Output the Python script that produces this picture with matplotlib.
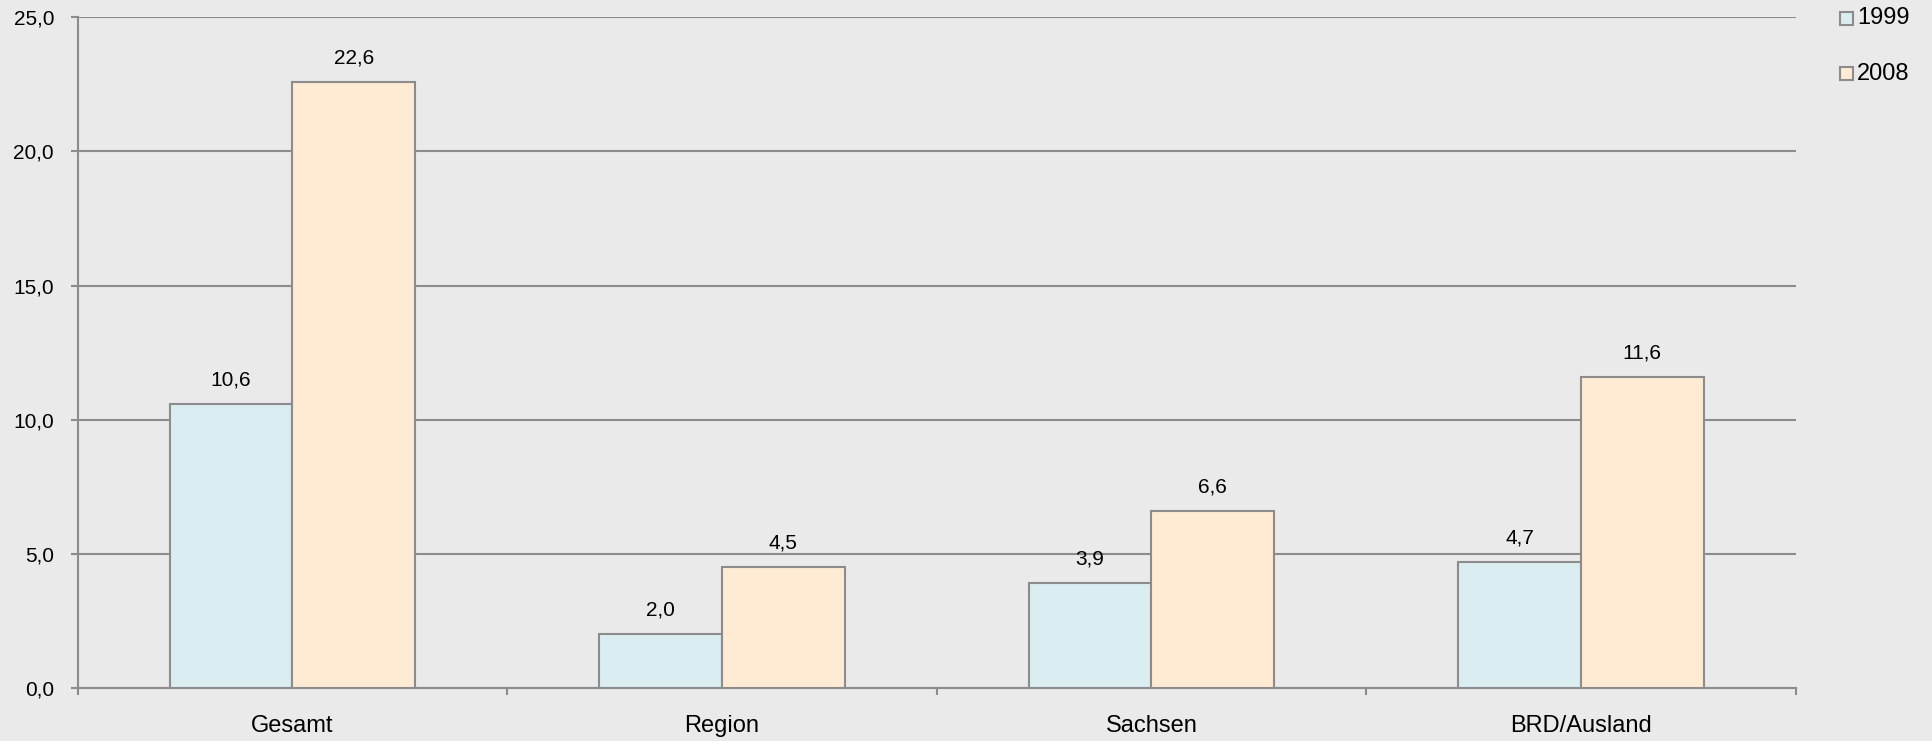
import numpy as np
import matplotlib
matplotlib.use('Agg')
import matplotlib.pyplot as plt
from matplotlib.patches import Rectangle
from matplotlib.ticker import FuncFormatter, FixedLocator

plt.rcParams['font.family'] = ['Liberation Sans', 'DejaVu Sans']

categories = ['Gesamt', 'Region', 'Sachsen', 'BRD/Ausland']
series_names = ['1999', '2008']
values_1999 = [10.6, 2.0, 3.9, 4.7]
values_2008 = [22.6, 4.5, 6.6, 11.6]

bg = '#EAEAEA'
grey = '#8C8C8C'
col_1999 = '#DAEDF1'
col_2008 = '#FFEBD3'

W, H = 1933, 741
f = plt.figure(figsize=(W / 100, H / 100), dpi=100, facecolor=bg)
ax = f.add_axes([0.0402, 0.0715, 0.8888, 0.9052])
ax.set_facecolor(bg)

x = np.arange(len(categories))
w = 2 / 7
b1 = ax.bar(x - w / 2, values_1999, w, color=col_1999, edgecolor=grey, linewidth=1.5, zorder=3)
b2 = ax.bar(x + w / 2, values_2008, w, color=col_2008, edgecolor=grey, linewidth=1.5, zorder=3)

fmt = lambda v: f'{v:.1f}'.replace('.', ',')
for bars, vals in [(b1, values_1999), (b2, values_2008)]:
    for r, v in zip(bars, vals):
        ax.annotate(fmt(v), (r.get_x() + r.get_width() / 2, v), xytext=(0, 10.5),
                    textcoords='offset points', ha='center', va='bottom', fontsize=15)

ax.set_xlim(-0.5, len(categories) - 0.5)
ax.set_ylim(0, 25)
ax.set_yticks(np.arange(0, 26, 5))
ax.yaxis.set_major_formatter(FuncFormatter(lambda v, p: fmt(v)))
ax.yaxis.grid(True, color=grey, linewidth=1.5, zorder=0)
ax.set_axisbelow(True)

ax.set_xticks(x)
ax.set_xticklabels(categories, fontsize=17)
ax.xaxis.set_minor_locator(FixedLocator(np.arange(-0.5, len(categories), 1)))
ax.tick_params(axis='x', which='major', length=0, pad=19.5)
ax.tick_params(axis='x', which='minor', length=5, width=1.5, color=grey, direction='out')
ax.tick_params(axis='y', length=5, width=1.5, color=grey, labelsize=15, pad=12)

for s in ['top', 'right']:
    ax.spines[s].set_visible(False)
for s in ['left', 'bottom']:
    ax.spines[s].set_color(grey)
    ax.spines[s].set_linewidth(1.5)

# legend, drawn by hand to sit where the original one is
for i, (name, c) in enumerate(zip(series_names, [col_1999, col_2008])):
    yc = 18.5 + 55 * i
    f.patches.append(Rectangle(((1840) / W, 1 - (yc + 6.5) / H), 13 / W, 13 / H,
                               transform=f.transFigure, facecolor=c, edgecolor=grey,
                               linewidth=1.5))
    f.text(1857 / W, 1 - yc / H, name, fontsize=17, ha='left', va='center')

f.savefig('out.png', dpi=100, facecolor=bg)
plt.close()
